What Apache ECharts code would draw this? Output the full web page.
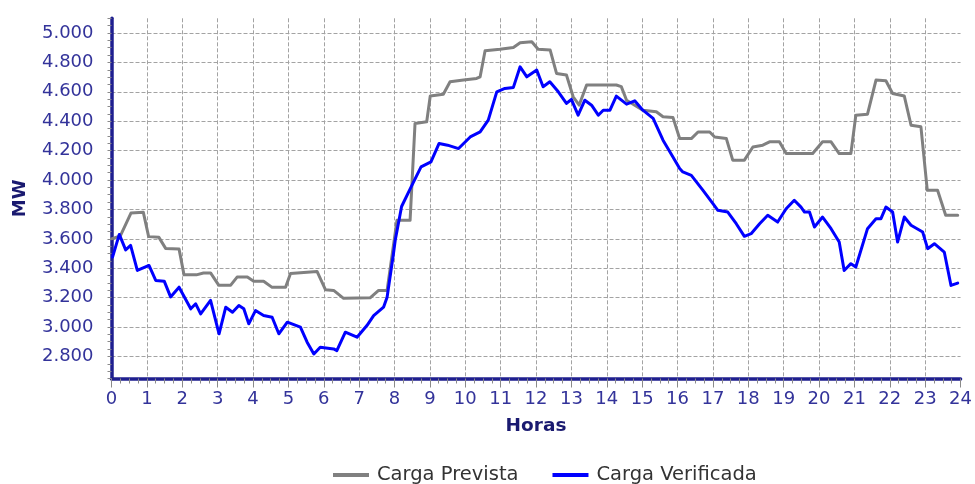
<!DOCTYPE html>
<html>
<head>
<meta charset="utf-8">
<script src="https://cdn.jsdelivr.net/npm/echarts@6/dist/echarts.min.js"></script>
<style>
html,body{margin:0;padding:0;background:#fff;}
#chart{width:975px;height:484px;}
</style>
</head>
<body>
<div id="chart"></div>
<script>
const seriesNames = ['Carga Prevista', 'Carga Verificada'];

const prevHours = [0.00, 0.25, 0.55, 0.90, 1.05, 1.34, 1.53, 1.91, 2.05, 2.40, 2.60, 2.80, 3.03, 3.37, 3.55, 3.84, 4.02, 4.30, 4.54, 4.92, 5.06, 5.81, 6.05, 6.28, 6.56, 7.31, 7.55, 7.79, 8.07, 8.44, 8.58, 8.91, 9.01, 9.38, 9.57, 9.95, 10.32, 10.42, 10.56, 10.98, 11.36, 11.55, 11.88, 12.06, 12.40, 12.58, 12.86, 13.05, 13.22, 13.43, 14.27, 14.41, 14.56, 15.02, 15.40, 15.59, 15.87, 16.06, 16.39, 16.58, 16.91, 17.05, 17.38, 17.56, 17.89, 18.13, 18.41, 18.60, 18.88, 19.07, 19.82, 20.10, 20.34, 20.57, 20.90, 21.04, 21.37, 21.61, 21.89, 22.08, 22.41, 22.60, 22.88, 23.06, 23.35, 23.58, 23.92];
const prevValues = [3600, 3620, 3775, 3780, 3615, 3610, 3535, 3530, 3355, 3355, 3368, 3368, 3285, 3285, 3340, 3340, 3312, 3312, 3270, 3270, 3365, 3378, 3253, 3249, 3195, 3199, 3249, 3249, 3726, 3726, 4385, 4396, 4571, 4584, 4668, 4680, 4691, 4702, 4879, 4889, 4902, 4934, 4941, 4889, 4884, 4725, 4714, 4566, 4510, 4646, 4646, 4635, 4543, 4475, 4464, 4430, 4426, 4282, 4282, 4327, 4327, 4293, 4282, 4135, 4135, 4225, 4237, 4260, 4260, 4180, 4180, 4260, 4260, 4180, 4180, 4441, 4448, 4680, 4675, 4589, 4571, 4373, 4362, 3930, 3930, 3760, 3760];

const verHours = [0.03, 0.22, 0.40, 0.54, 0.73, 1.06, 1.25, 1.49, 1.67, 1.91, 2.24, 2.38, 2.52, 2.80, 3.04, 3.23, 3.42, 3.60, 3.74, 3.88, 4.07, 4.30, 4.54, 4.73, 4.97, 5.34, 5.53, 5.72, 5.90, 6.28, 6.37, 6.61, 6.94, 7.22, 7.41, 7.69, 7.79, 7.97, 8.02, 8.20, 8.47, 8.75, 9.03, 9.26, 9.50, 9.81, 10.14, 10.42, 10.65, 10.89, 11.12, 11.36, 11.55, 11.74, 12.02, 12.20, 12.39, 12.63, 12.86, 13.00, 13.19, 13.38, 13.57, 13.76, 13.90, 14.09, 14.27, 14.56, 14.79, 15.02, 15.31, 15.59, 15.87, 16.06, 16.15, 16.39, 16.72, 17.00, 17.14, 17.42, 17.66, 17.89, 18.08, 18.32, 18.55, 18.83, 19.07, 19.30, 19.49, 19.59, 19.73, 19.87, 20.10, 20.34, 20.57, 20.71, 20.90, 21.04, 21.37, 21.61, 21.75, 21.89, 22.08, 22.22, 22.41, 22.60, 22.93, 23.07, 23.26, 23.54, 23.73, 23.92];
const verValues = [3476, 3630, 3525, 3555, 3385, 3419, 3317, 3312, 3205, 3271, 3124, 3158, 3090, 3181, 2954, 3135, 3101, 3147, 3124, 3022, 3112, 3078, 3067, 2954, 3033, 2999, 2897, 2817, 2862, 2851, 2840, 2965, 2931, 3010, 3078, 3135, 3203, 3499, 3590, 3820, 3953, 4089, 4123, 4249, 4237, 4214, 4293, 4327, 4407, 4600, 4623, 4630, 4770, 4702, 4748, 4634, 4668, 4600, 4521, 4548, 4441, 4543, 4509, 4441, 4475, 4475, 4571, 4516, 4539, 4475, 4419, 4271, 4157, 4078, 4055, 4032, 3930, 3839, 3794, 3782, 3703, 3617, 3635, 3703, 3760, 3714, 3805, 3862, 3816, 3782, 3782, 3680, 3748, 3669, 3578, 3385, 3431, 3408, 3669, 3737, 3737, 3816, 3782, 3578, 3748, 3692, 3646, 3533, 3567, 3510, 3283, 3299];

const yMin = 2650, yMax = 5100, yStep = 50, yLabelStep = 200;
const xMin = 0, xMax = 24, xStep = 1;

const axisBlue = '#1f1f8f';
const labelColor = '#33339a';
const gridColor = '#a3a3a3';

function fmtThousands(v) {
  return String(v).replace(/\B(?=(\d{3})+(?!\d))/g, '.');
}

const chart = echarts.init(document.getElementById('chart'), null, {renderer: 'canvas'});
const splitColors = [];
for (let i = 0; i < yLabelStep / yStep; i++) splitColors.push('rgba(0,0,0,0)');
splitColors[((yLabelStep - (yMin % yLabelStep)) / yStep) % (yLabelStep / yStep)] = gridColor;

chart.setOption({
  animation: false,
  backgroundColor: '#ffffff',
  grid: {left: 111.5, right: 13.5, top: 18.3, bottom: 105.5, containLabel: false},
  legend: {
    data: seriesNames,
    left: 328,
    top: 460,
    itemWidth: 36,
    itemHeight: 4,
    itemGap: 34,
    icon: 'rect',
    textStyle: {fontFamily: 'DejaVu Sans', fontSize: 19.5, color: '#333333', padding: [0, 0, 0, 3]}
  },
  xAxis: {
    type: 'value',
    min: xMin, max: xMax, interval: xStep,
    name: 'Horas',
    nameLocation: 'middle',
    nameGap: 38,
    nameTextStyle: {fontFamily: 'DejaVu Sans', fontWeight: 'bold', fontSize: 18.5, color: '#1a1a70'},
    axisLine: {show: true, onZero: false, lineStyle: {color: axisBlue, width: 3.5}},
    axisTick: {show: true, length: 9, lineStyle: {color: '#8a8a8a', width: 1}},
    minorTick: {show: true, splitNumber: 4, length: 5, lineStyle: {color: '#8a8a8a', width: 1}},
    axisLabel: {fontFamily: 'DejaVu Sans', fontSize: 18, color: labelColor, margin: 12},
    splitLine: {show: true, showMaxLine: false, lineStyle: {color: gridColor, type: [4, 2], width: 1}}
  },
  yAxis: {
    type: 'value',
    min: yMin, max: yMax, interval: yStep,
    name: 'MW',
    nameLocation: 'middle',
    nameGap: 82,
    nameRotate: 90,
    nameTextStyle: {fontFamily: 'DejaVu Sans', fontWeight: 'bold', fontSize: 18, color: '#1a1a70'},
    axisLine: {show: true, onZero: false, lineStyle: {color: axisBlue, width: 3.5}},
    axisTick: {show: true, length: 4, lineStyle: {color: '#8a8a8a', width: 1}},
    axisLabel: {
      fontFamily: 'DejaVu Sans', fontSize: 18, color: labelColor, margin: 18,
      formatter: function (v) { return (v % yLabelStep === 0) ? fmtThousands(v) : ''; }
    },
    splitLine: {show: true, lineStyle: {color: splitColors, type: [4, 2], width: 1}}
  },
  series: [
    {
      name: seriesNames[0],
      type: 'line',
      data: prevHours.map((h, i) => [h, prevValues[i]]),
      showSymbol: false,
      symbol: 'none',
      color: '#808080',
      lineStyle: {color: '#808080', width: 3, join: 'round', cap: 'round'},
      z: 2
    },
    {
      name: seriesNames[1],
      type: 'line',
      data: verHours.map((h, i) => [h, verValues[i]]),
      showSymbol: false,
      symbol: 'none',
      color: '#0000ff',
      lineStyle: {color: '#0000ff', width: 3, join: 'round', cap: 'round'},
      z: 3
    }
  ]
});
</script>
</body>
</html>
